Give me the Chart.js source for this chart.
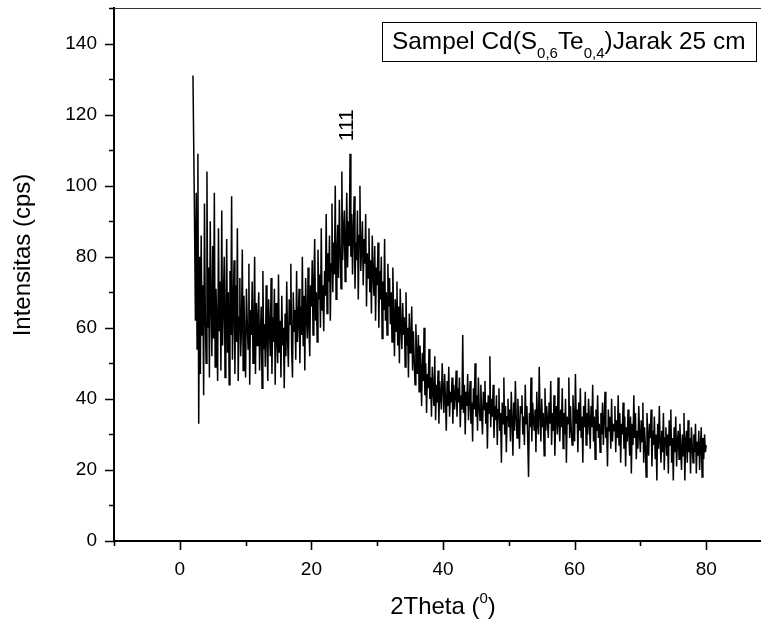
<!DOCTYPE html>
<html>
<head>
<meta charset="utf-8">
<script src="https://cdn.jsdelivr.net/npm/chart.js@4.4.1/dist/chart.umd.min.js"></script>
<style>
  html, body { margin: 0; padding: 0; background: #fff; overflow: hidden; }
  #wrap { width: 775px; height: 624px; }
</style>
</head>
<body>
<div id="wrap"><canvas id="c" width="775" height="624"></canvas></div>
<script>
// ---------- DATA ----------
const thetaStart = 2.0;      // first 2Theta value (deg)
const thetaStep = 0.125;     // sampling step (deg)
const intensity = [
  131, 110, 88, 62, 98, 54, 109, 33, 80, 47, 86, 58, 72, 41, 95, 64,
  50, 104, 60, 77, 46, 90, 68, 52, 83, 57, 98, 49, 71, 62, 45, 88,
  59, 73, 48, 93, 55, 67, 80, 46, 62, 85, 53, 70, 44, 76, 58, 97,
  51, 66, 79, 47, 72, 56, 88, 45, 63, 74, 52, 60, 82, 48, 69, 57,
  46, 71, 62, 54, 78, 44, 65, 58, 73, 50, 61, 80, 47, 67, 55, 63,
  70, 48, 59, 66, 43, 76, 54, 61, 49, 72, 57, 45, 68, 60, 52, 74,
  47, 63, 56, 71, 44, 67, 58, 50, 75, 53, 62, 46, 69, 55, 60, 43,
  64, 52, 73, 57, 49, 68, 61, 78, 54, 46, 70, 59, 65, 51, 76, 56,
  62, 71, 50, 66, 58, 80, 55, 69, 48, 74, 63, 57, 77, 60, 52, 72,
  66, 79, 58, 73, 85, 62, 70, 56, 82, 68, 75, 60, 88, 65, 72, 59,
  76, 69, 92, 64, 81, 73, 86, 62, 78, 95, 70, 84, 75, 100, 68, 80,
  89, 74, 96, 82, 71, 104, 79, 87, 93, 73, 85, 98, 77, 90, 83, 109,
  80, 92, 75, 88, 97, 71, 84, 79, 93, 68, 86, 100, 76, 82, 90, 72,
  85, 78, 92, 66, 81, 74, 88, 70, 79, 64, 86, 75, 69, 83, 62, 77,
  72, 84, 60, 76, 68, 80, 57, 73, 65, 85, 62, 70, 58, 78, 66, 74,
  61, 70, 56, 77, 64, 52, 68, 59, 73, 55, 66, 50, 71, 60, 54, 67,
  58, 63, 49, 70, 55, 60, 46, 64, 53, 57, 66, 48, 59, 51, 44, 61,
  52, 47, 58, 42, 55, 49, 38, 53, 45, 60, 41, 50, 36, 47, 43, 54,
  40, 46, 35, 49, 42, 38, 52, 34, 44, 39, 48, 33, 45, 41, 37, 50,
  43, 36, 47, 40, 31, 45, 38, 49, 35, 42, 39, 46, 33, 44, 37, 41,
  48, 35, 43, 39, 46, 32, 41, 37, 58, 36, 44, 30, 42, 38, 47, 34,
  40, 45, 33, 39, 28, 43, 37, 50, 35, 41, 31, 46, 38, 34, 44, 36,
  30, 42, 37, 45, 33, 39, 26, 41, 36, 52, 32, 40, 35, 44, 29, 38,
  34, 41, 27, 37, 43, 31, 36, 22, 39, 33, 46, 30, 38, 25, 35, 40,
  32, 37, 28, 42, 34, 24, 39, 31, 45, 35, 29, 40, 33, 26, 38, 36,
  41, 30, 35, 27, 44, 33, 38, 29, 18, 36, 32, 46, 28, 39, 34, 31,
  37, 25, 42, 33, 30, 49, 35, 28, 40, 32, 36, 24, 43, 31, 38, 34,
  29, 39, 33, 45, 27, 36, 31, 41, 24, 35, 38, 30, 46, 33, 28, 37,
  32, 43, 26, 36, 30, 40, 22, 35, 33, 46, 29, 38, 31, 27, 41, 34,
  28, 47, 33, 37, 25, 39, 31, 43, 29, 35, 22, 38, 32, 42, 27, 36,
  30, 40, 34, 26, 38, 32, 44, 28, 35, 23, 37, 31, 41, 29, 33, 25,
  36, 30, 39, 27, 34, 42, 29, 32, 21, 37, 31, 35, 26, 40, 28, 33,
  31, 38, 25, 34, 29, 41, 27, 36, 22, 33, 30, 39, 26, 35, 21, 32,
  28, 37, 30, 24, 35, 19, 33, 27, 41, 29, 36, 23, 31, 26, 38, 30,
  25, 34, 28, 39, 22, 32, 27, 18, 36, 30, 24, 33, 29, 37, 21, 31,
  27, 35, 23, 30, 17, 33, 26, 38, 28, 22, 31, 25, 36, 20, 29, 32,
  24, 30, 19, 34, 27, 37, 22, 29, 17, 32, 25, 35, 21, 28, 31, 23,
  33, 26, 20, 30, 24, 36, 17, 28, 31, 22, 34, 25, 29, 19, 32, 27,
  22, 30, 25, 33, 19, 28, 24, 31, 20, 27, 32, 18, 29, 23, 30, 25,
  27
];
const xMajorTicks = [0, 20, 40, 60, 80];
const xMinorTicks = [-10, 10, 30, 50, 70, 90];
const yMajorTicks = [0, 20, 40, 60, 80, 100, 120, 140];
const yMinorTicks = [10, 30, 50, 70, 90, 110, 130, 150];
const xTitleMain = '2Theta (';
const xTitleSup = '0';
const xTitleEnd = ')';
const yTitle = 'Intensitas (cps)';
const legendParts = [
  { t: 'Sampel Cd(S', sub: false },
  { t: '0,6', sub: true },
  { t: 'Te', sub: false },
  { t: '0,4', sub: true },
  { t: ')Jarak 25 cm', sub: false }
];
const peakLabel = { text: '111', x: 25.5, y: 117 };

// ---------- CHART ----------
const FONT = '"Liberation Sans", Arial, sans-serif';
const points = intensity.map((v, i) => ({ x: thetaStart + i * thetaStep, y: v }));

const decor = {
  id: 'decor',
  afterDraw(chart) {
    const ctx = chart.ctx;
    const xs = chart.scales.x, ys = chart.scales.y;
    const a = chart.chartArea;
    ctx.save();
    ctx.strokeStyle = '#000';
    ctx.lineWidth = 1.6;
    ctx.beginPath();
    xMajorTicks.forEach(v => { const p = Math.round(xs.getPixelForValue(v)) + 0.5; ctx.moveTo(p, a.bottom); ctx.lineTo(p, a.bottom + 9); });
    xMinorTicks.forEach(v => { const p = Math.round(xs.getPixelForValue(v)) + 0.5; ctx.moveTo(p, a.bottom); ctx.lineTo(p, a.bottom + 5); });
    yMajorTicks.forEach(v => { const p = Math.round(ys.getPixelForValue(v)) + 0.5; ctx.moveTo(a.left, p); ctx.lineTo(a.left - 9, p); });
    yMinorTicks.forEach(v => { const p = Math.round(ys.getPixelForValue(v)) + 0.5; ctx.moveTo(a.left, p); ctx.lineTo(a.left - 5, p); });
    ctx.stroke();
    // top frame line
    ctx.lineWidth = 1;
    ctx.strokeStyle = '#333';
    ctx.beginPath();
    ctx.moveTo(a.left, Math.round(a.top) + 0.5);
    ctx.lineTo(a.right, Math.round(a.top) + 0.5);
    ctx.stroke();

    ctx.fillStyle = '#000';
    // x title
    const big = '24px ' + FONT, small = '15px ' + FONT;
    ctx.font = big;
    const w1 = ctx.measureText(xTitleMain).width;
    ctx.font = small;
    const w2 = ctx.measureText(xTitleSup).width;
    ctx.font = big;
    const w3 = ctx.measureText(xTitleEnd).width;
    const xc = xs.getPixelForValue(40);
    let tx = xc - (w1 + w2 + w3) / 2;
    const ty = 614;
    ctx.textBaseline = 'alphabetic';
    ctx.textAlign = 'left';
    ctx.fillText(xTitleMain, tx, ty); tx += w1;
    ctx.font = small; ctx.fillText(xTitleSup, tx, ty - 11); tx += w2;
    ctx.font = big; ctx.fillText(xTitleEnd, tx, ty);

    // y title
    ctx.save();
    ctx.translate(30, 255);
    ctx.rotate(-Math.PI / 2);
    ctx.textAlign = 'center';
    ctx.font = big;
    ctx.fillText(yTitle, 0, 0);
    ctx.restore();

    // legend box
    ctx.lineWidth = 1;
    ctx.strokeStyle = '#000';
    ctx.strokeRect(382.5, 22.5, 374, 39);
    const lf = '24.4px ' + FONT, sf = '15px ' + FONT;
    let lx = 392;
    const ly = 49;
    legendParts.forEach(p => {
      ctx.font = p.sub ? sf : lf;
      ctx.fillText(p.t, lx, p.sub ? ly + 9 : ly);
      lx += ctx.measureText(p.t).width;
    });

    // peak label
    ctx.save();
    ctx.translate(xs.getPixelForValue(peakLabel.x), ys.getPixelForValue(peakLabel.y));
    ctx.rotate(-Math.PI / 2);
    ctx.textAlign = 'center';
    ctx.textBaseline = 'middle';
    ctx.font = '21px ' + FONT;
    ctx.fillText(peakLabel.text, 0, 0);
    ctx.restore();
    ctx.restore();
  }
};

new Chart(document.getElementById('c'), {
  type: 'line',
  data: {
    datasets: [{
      data: points,
      borderColor: '#000',
      borderWidth: 1.5,
      pointRadius: 0,
      tension: 0,
      fill: false
    }]
  },
  options: {
    responsive: false,
    animation: false,
    events: [],
    layout: { padding: { top: 8, right: 3, left: 0, bottom: 0 } },
    plugins: { legend: { display: false }, tooltip: { enabled: false } },
    scales: {
      x: {
        type: 'linear', min: -10, max: 90,
        afterFit: s => { s.height = 83; s.paddingLeft = 0; s.paddingRight = 0; },
        grid: { display: false, drawTicks: true, tickLength: 9 },
        border: { display: true, color: '#000', width: 2 },
        ticks: {
          stepSize: 10, autoSkip: false, maxRotation: 0, padding: 8,
          color: '#000', font: { family: FONT, size: 19 },
          callback: v => xMajorTicks.includes(v) ? String(v) : ''
        }
      },
      y: {
        type: 'linear', min: 0, max: 150,
        afterFit: s => { s.width = 114; s.paddingTop = 0; s.paddingBottom = 0; },
        grid: { display: false, drawTicks: true, tickLength: 9 },
        border: { display: true, color: '#000', width: 2 },
        ticks: {
          stepSize: 10, autoSkip: false, padding: 8,
          color: '#000', font: { family: FONT, size: 19 },
          callback: v => yMajorTicks.includes(v) ? String(v) : ''
        }
      }
    }
  },
  plugins: [decor]
});
</script>
</body>
</html>
